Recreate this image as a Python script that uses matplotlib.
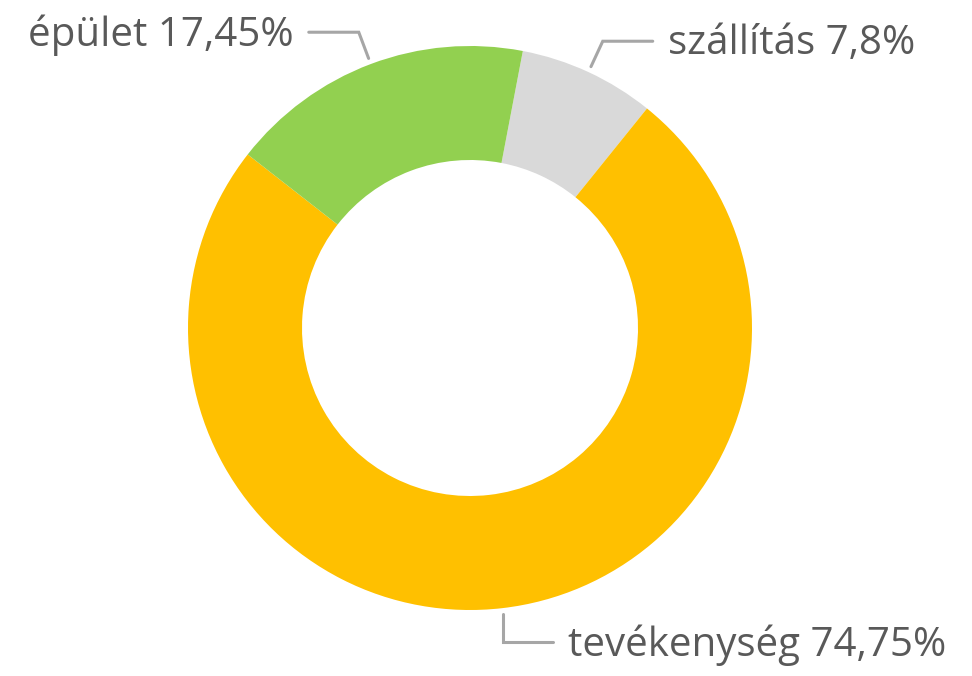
import numpy as np
import matplotlib.pyplot as plt

# slice data (clockwise order, starting from top-right)
labels = ['szállítás', 'tevékenység', 'épület']
values = [7.8, 74.75, 17.45]
value_text = ['7,8%', '74,75%', '17,45%']
colors = ['#D9D9D9', '#FFC000', '#92D050']

W, H = 972, 676
fig = plt.figure(figsize=(W / 100, H / 100), dpi=100)
ax = fig.add_axes([0, 0, 1, 1])

cx, cy = 470, H - 328
R = 282
start = 79.2

wedges, _ = ax.pie(values, colors=colors, startangle=start, counterclock=False,
                   center=(cx, cy), radius=R,
                   wedgeprops=dict(width=R - 168, linewidth=0))

ax.set_xlim(0, W)
ax.set_ylim(0, H)
ax.set_aspect('equal')
ax.axis('off')

line_col = '#A6A6A6'
txt_col = '#595959'
for w, lab, vt in zip(wedges, labels, value_text):
    mid = np.deg2rad((w.theta1 + w.theta2) / 2)
    x0, y0 = cx + 288 * np.cos(mid), cy + 288 * np.sin(mid)
    if lab == 'tevékenység':
        x1, y1 = x0, cy + 316 * np.sin(mid)
    else:
        x1, y1 = cx + 316 * np.cos(mid), cy + 316 * np.sin(mid)
    side = 1 if np.cos(mid) > 0 else -1
    x2 = x1 + side * 50
    ax.plot([x0, x1, x2], [y0, y1, y1], color=line_col, lw=2.2, solid_capstyle='round',
            solid_joinstyle='miter')
    ax.text(x2 + side * 15, y1 - 3, f'{lab} {vt}', ha='left' if side > 0 else 'right',
            va='center', fontsize=29, color=txt_col, family='Open Sans')

fig.savefig('out.png', dpi=100)
